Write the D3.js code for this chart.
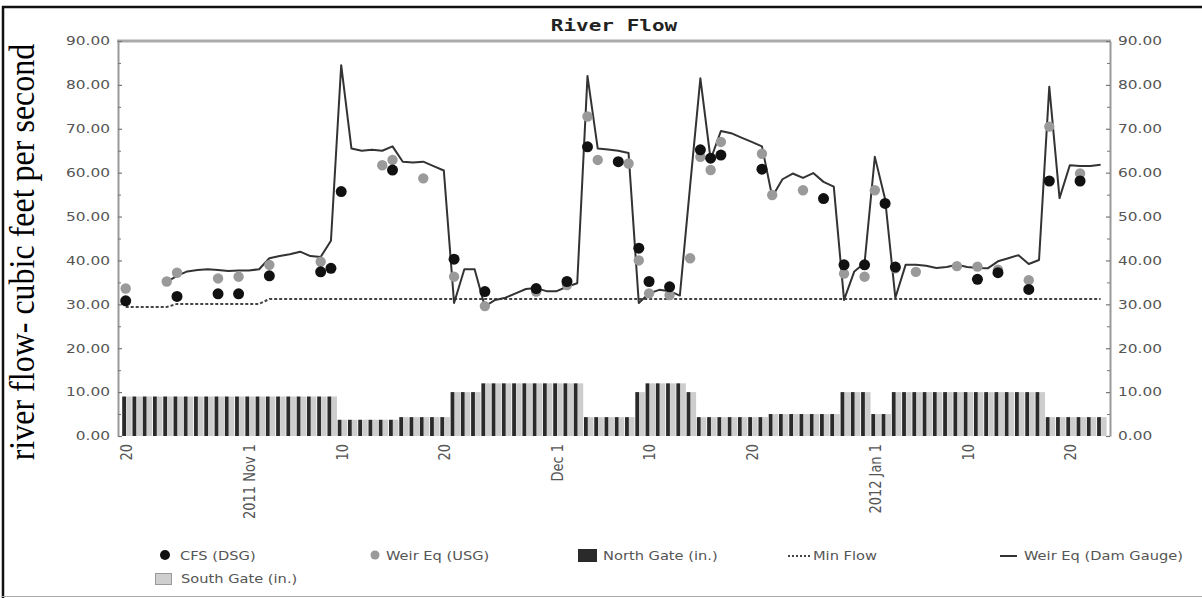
<!DOCTYPE html>
<html><head><meta charset="utf-8">
<script src="https://cdn.jsdelivr.net/npm/d3@7"></script>
<style>body{margin:0;background:#fff}svg{display:block}</style>
</head><body>
<svg id="c" width="1202" height="598"></svg>
<script>
// ---------- data ----------
const startDay = "2011-10-20";
const endDay = "2012-01-24"; // exclusive
const northGate = [9,9,9,9,9,9,9,9,9,9,9,9,9,9,9,9,9,9,9,9,9,
  3.7,3.7,3.7,3.7,3.7,3.7, 4.3,4.3,4.3,4.3,4.3, 10,10,10,
  12,12,12,12,12,12,12,12,12,12, 4.3,4.3,4.3,4.3,4.3, 10, 12,12,12,12, 10,
  4.3,4.3,4.3,4.3,4.3,4.3,4.3, 5,5,5,5,5,5,5, 10,10,10, 5,5,
  10,10,10,10,10,10,10,10,10,10,10,10,10,10,10, 4.3,4.3,4.3,4.3,4.3,4.3];
const southGate = [9,9,9,9,9,9,9,9,9,9,9,9,9,9,9,9,9,9,9,9,9,
  3.7,3.7,3.7,3.7,3.7,3.7, 4.3,4.3,4.3,4.3,4.3, 10,10,10,
  12,12,12,12,12,12,12,12,12,12, 4.3,4.3,4.3,4.3,4.3, 10, 12,12,12,12, 10,
  4.3,4.3,4.3,4.3,4.3,4.3,4.3, 5,5,5,5,5,5,5, 10,10,10, 5,5,
  10,10,10,10,10,10,10,10,10,10,10,10,10,10,10, 4.3,4.3,4.3,4.3,4.3,4.3];
const weirDam = [null,null,null,null,
  35.1,36.5,37.5,37.8,38,37.8,37.6,37.7,37.7,38,
  40.5,41,41.4,42,41,40.8,44.5,84.5,65.5,65,
  65.2,65,66,62.5,62.3,62.5,61.5,60.5,30.3,38,
  38,29.5,31,31.5,32.5,33.5,33.7,33,33,34,
  34.8,82,65.5,65.3,65,64.5,30.3,32.5,33.3,33,
  32,57,81.5,63,69.5,69,68,67,66,54.5,
  58.5,59.8,58.8,59.9,57.9,56.8,31,37.5,39.4,63.6,
  54,31.5,39,39,38.8,38.3,38.5,39,38.5,38.3,
  38.2,39.8,40.5,41.2,39.2,40.1,79.6,54.2,61.7,61.5,
  61.5,61.8];
const minFlow = [29.4,29.4,29.4,29.4,29.4,
  30.1,30.1,30.1,30.1,30.1,30.1,30.1,30.1,30.1,
  31.2,31.2,31.2,31.2,31.2,31.2,31.2,31.2,31.2,31.2,
  31.2,31.2,31.2,31.2,31.2,31.2,31.2,31.2,31.2,31.2,
  31.2,31.2,31.2,31.2,31.2,31.2,31.2,31.2,31.2,31.2,
  31.2,31.2,31.2,31.2,31.2,31.2,31.2,31.2,31.2,31.2,
  31.2,31.2,31.2,31.2,31.2,31.2,31.2,31.2,31.2,31.2,
  31.2,31.2,31.2,31.2,31.2,31.2,31.2,31.2,31.2,31.2,
  31.2,31.2,31.2,31.2,31.2,31.2,31.2,31.2,31.2,31.2,
  31.2,31.2,31.2,31.2,31.2,31.2,31.2,31.2,31.2,31.2,
  31.2,31.2];
const cfsDates = ["2011-10-20","2011-10-25","2011-10-29","2011-10-31","2011-11-03","2011-11-08",
  "2011-11-09","2011-11-10","2011-11-15","2011-11-21","2011-11-24","2011-11-29","2011-12-02",
  "2011-12-04","2011-12-07","2011-12-09","2011-12-10","2011-12-12","2011-12-15","2011-12-16",
  "2011-12-17","2011-12-21","2011-12-27","2011-12-29","2011-12-31","2012-01-02","2012-01-03",
  "2012-01-11","2012-01-13","2012-01-16","2012-01-18","2012-01-21"];
const cfsValues = [30.8,31.8,32.4,32.4,36.5,37.4,
  38.2,55.7,60.6,40.3,32.9,33.6,35.2,
  65.9,62.5,42.8,35.2,34,65.2,63.3,
  64,60.8,54.1,39,39,53,38.5,
  35.7,37.2,33.4,58.1,58.1];
const usgDates = ["2011-10-20","2011-10-24","2011-10-25","2011-10-29","2011-10-31","2011-11-03",
  "2011-11-08","2011-11-14","2011-11-15","2011-11-18","2011-11-21","2011-11-24","2011-11-29",
  "2011-12-02","2011-12-04","2011-12-05","2011-12-08","2011-12-09","2011-12-10","2011-12-12",
  "2011-12-14","2011-12-15","2011-12-16","2011-12-17","2011-12-21","2011-12-22","2011-12-25",
  "2011-12-29","2011-12-31","2012-01-01","2012-01-03","2012-01-05","2012-01-09","2012-01-11",
  "2012-01-13","2012-01-16","2012-01-18","2012-01-21"];
const usgValues = [33.6,35.2,37.2,35.9,36.3,39,
  39.7,61.7,62.9,58.7,36.3,29.6,32.9,
  34.4,72.8,62.9,62.1,40,32.5,32.1,
  40.5,63.6,60.6,67,64.3,54.9,56,
  37,36.3,56,38.2,37.4,38.7,38.6,
  37.9,35.5,70.5,59.8];
const xTickDates = ["2011-10-20","2011-11-01","2011-11-10","2011-11-20","2011-12-01",
  "2011-12-10","2011-12-20","2012-01-01","2012-01-10","2012-01-20"];
const xTickLabels = ["20","2011 Nov 1","10","20","Dec 1","10","20","2012 Jan 1","10","20"];
const yTicks = [0,10,20,30,40,50,60,70,80,90];
const yMinorTicks = [5,15,25,35,45,55,65,75,85];
const seriesNames = ["CFS (DSG)","Weir Eq (USG)","North Gate (in.)","Min Flow","Weir Eq (Dam Gauge)","South Gate (in.)"];
const titleText = "River Flow";
const yTitle = "river flow- cubic feet per second";

// ---------- chart ----------
const parse = d3.timeParse("%Y-%m-%d");
const days = d3.timeDay.range(parse(startDay), parse(endDay));
const svg = d3.select("#c");
const W = 1202, H = 598;
const L = 118, R = 1110, T = 41, B = 436;
const SX = 1.28; // horizontal glyph stretch of the original picture
const font = "DejaVu Sans, Verdana, sans-serif";

const x = d3.scaleTime()
  .domain([new Date(2011, 9, 19, 6), new Date(2012, 0, 23, 22)])
  .range([L, R]);
const y = d3.scaleLinear().domain([0, 90]).range([B, T]);

// frame
svg.append("rect").attr("width", W).attr("height", H).attr("fill", "#fff");
svg.append("line").attr("x1", 2).attr("x2", W).attr("y1", 7).attr("y2", 7)
  .attr("stroke", "#111").attr("stroke-width", 2.5);
svg.append("line").attr("x1", 3).attr("x2", 3).attr("y1", 6).attr("y2", H)
  .attr("stroke", "#111").attr("stroke-width", 2.5);
svg.append("line").attr("x1", 2).attr("x2", W).attr("y1", 596.5).attr("y2", 596.5)
  .attr("stroke", "#aaa").attr("stroke-width", 1);

// bars
const barData = days.map((d, i) => ({ d, n: northGate[i], s: southGate[i] }));
const bars = svg.append("g");
bars.selectAll("rect.s").data(barData).join("rect").attr("class", "s")
  .attr("x", d => x(d.d) + 0.5).attr("width", 5.5)
  .attr("y", d => y(d.s)).attr("height", d => y(0) - y(d.s))
  .attr("fill", "#cdcdcd");
bars.selectAll("rect.n").data(barData).join("rect").attr("class", "n")
  .attr("x", d => x(d.d) - 3.5).attr("width", 3.8)
  .attr("y", d => y(d.n)).attr("height", d => y(0) - y(d.n))
  .attr("fill", "#2a2a2a");

// top border of plot
svg.append("line").attr("x1", L - 1).attr("x2", R + 1).attr("y1", T).attr("y2", T)
  .attr("stroke", "#aaa").attr("stroke-width", 3);

// y axes
function styleAxis(g, side) {
  g.select(".domain").attr("stroke", "#999").attr("stroke-width", 2);
  g.selectAll(".tick line").attr("stroke", "#777").attr("stroke-width", 1.2);
  g.selectAll("text").attr("fill", "#555").attr("font-size", 12).attr("font-family", font)
    .attr("x", side * 8 / SX).attr("transform", `scale(${SX},1)`);
}
const yl = svg.append("g").attr("transform", `translate(${L},0)`)
  .call(d3.axisLeft(y).tickValues(yTicks).tickFormat(d3.format(".2f"))
    .tickSize(-4).tickSizeOuter(0).tickPadding(8));
styleAxis(yl, -1);
svg.append("g").attr("transform", `translate(${L},0)`)
  .call(d3.axisLeft(y).tickValues(yMinorTicks).tickFormat("").tickSize(-3).tickSizeOuter(0))
  .call(g => { g.select(".domain").remove(); g.selectAll("line").attr("stroke", "#777"); });
const yr = svg.append("g").attr("transform", `translate(${R},0)`)
  .call(d3.axisRight(y).tickValues(yTicks).tickFormat(d3.format(".2f"))
    .tickSize(-4).tickSizeOuter(0).tickPadding(8));
styleAxis(yr, 1);
svg.append("g").attr("transform", `translate(${R},0)`)
  .call(d3.axisRight(y).tickValues(yMinorTicks).tickFormat("").tickSize(-3).tickSizeOuter(0))
  .call(g => { g.select(".domain").remove(); g.selectAll("line").attr("stroke", "#777"); });

// x axis
const xt = svg.append("g").attr("transform", `translate(0,${B})`)
  .call(d3.axisBottom(x).tickValues(xTickDates.map(parse))
    .tickFormat((d, i) => xTickLabels[i]).tickSize(0).tickSizeOuter(0));
xt.select(".domain").remove();
xt.selectAll("text")
  .attr("font-size", 13).attr("font-family", font).attr("fill", "#555")
  .attr("text-anchor", "end")
  .attr("x", -8).attr("y", 0).attr("dy", "0.35em")
  .attr("transform", `rotate(-90) scale(1,${SX})`);

// min flow
svg.append("path")
  .datum(days.map((d, i) => ({ d, v: minFlow[i] })))
  .attr("d", d3.line().x(d => x(d.d)).y(d => y(d.v)))
  .attr("fill", "none").attr("stroke", "#444").attr("stroke-width", 2)
  .attr("stroke-dasharray", "3,2");

// weir eq line
svg.append("path")
  .datum(days.map((d, i) => ({ d, v: weirDam[i] })))
  .attr("d", d3.line().defined(d => d.v != null).x(d => x(d.d)).y(d => y(d.v)))
  .attr("fill", "none").attr("stroke", "#333").attr("stroke-width", 2)
  .attr("stroke-linejoin", "round");

// dots
svg.append("g").selectAll("circle").data(usgDates.map((d, i) => ({ d: parse(d), v: usgValues[i] })))
  .join("circle").attr("cx", d => x(d.d)).attr("cy", d => y(d.v)).attr("r", 5.2)
  .attr("fill", "#9a9a9a");
svg.append("g").selectAll("circle").data(cfsDates.map((d, i) => ({ d: parse(d), v: cfsValues[i] })))
  .join("circle").attr("cx", d => x(d.d)).attr("cy", d => y(d.v)).attr("r", 5.5)
  .attr("fill", "#111");

// title
svg.append("text").attr("transform", `translate(${(L + R) / 2},31) scale(1.4,1)`)
  .attr("text-anchor", "middle").attr("font-family", "DejaVu Sans Mono, monospace")
  .attr("font-weight", "bold").attr("font-size", 15).attr("fill", "#222")
  .text(titleText);

// y title
svg.append("text").attr("transform", `translate(34,252) rotate(-90) scale(1,1.12)`)
  .attr("text-anchor", "middle").attr("font-family", "Liberation Serif, Times New Roman, serif")
  .attr("font-size", 32).attr("fill", "#000").text(yTitle);

// legend
const lg = svg.append("g");
function legText(x0, y0, t) {
  lg.append("text").attr("transform", `translate(${x0},${y0}) scale(1.22,1)`)
    .attr("font-family", font).attr("font-size", 12).attr("fill", "#555").text(t);
}
lg.append("circle").attr("cx", 165).attr("cy", 555).attr("r", 5).attr("fill", "#111");
legText(180, 560, seriesNames[0]);
lg.append("circle").attr("cx", 375).attr("cy", 555).attr("r", 4.5).attr("fill", "#9a9a9a");
legText(386, 560, seriesNames[1]);
lg.append("rect").attr("x", 578).attr("y", 549).attr("width", 19).attr("height", 13).attr("fill", "#2a2a2a");
legText(603, 560, seriesNames[2]);
lg.append("line").attr("x1", 788).attr("x2", 810).attr("y1", 556).attr("y2", 556)
  .attr("stroke", "#444").attr("stroke-width", 2).attr("stroke-dasharray", "2,2");
legText(813, 560, seriesNames[3]);
lg.append("line").attr("x1", 1000).attr("x2", 1017).attr("y1", 556).attr("y2", 556)
  .attr("stroke", "#333").attr("stroke-width", 2);
legText(1024, 560, seriesNames[4]);
lg.append("rect").attr("x", 155.5).attr("y", 573.5).attr("width", 16).attr("height", 11)
  .attr("fill", "#cfcfcf").attr("stroke", "#999");
legText(181, 583, seriesNames[5]);
</script>
</body></html>
